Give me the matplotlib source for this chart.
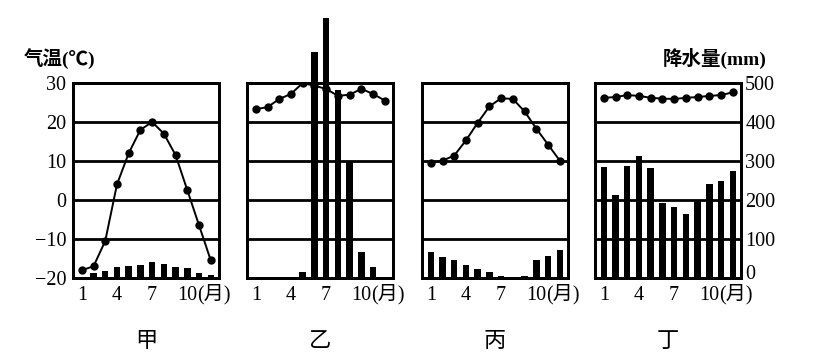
import numpy as np
import matplotlib
matplotlib.use("Agg")
import matplotlib.pyplot as plt
import matplotlib.transforms as mtransforms

plt.rcParams['font.family'] = ['Liberation Serif', 'Noto Sans CJK SC', 'DejaVu Sans']

months = np.arange(1, 13)
panel_names = ["甲", "乙", "丙", "丁"]

# monthly mean temperature (deg C)
temp_jia = [-18, -17, -10.5, 4, 12, 18, 20, 17, 11.5, 2.5, -6.5, -15.5]
temp_yi = [23.3, 23.8, 25.9, 27.2, 30, 29.3, 28.5, 26.7, 27, 28.5, 27.2, 25.5]
temp_bing = [9.5, 10.1, 11.4, 15.3, 19.8, 24, 26.1, 25.9, 22.7, 18.3, 14.2, 10.1]
temp_ding = [26.2, 26.4, 26.9, 26.7, 26.2, 26.0, 25.9, 26.2, 26.4, 26.7, 26.9, 27.6]

# monthly precipitation (mm)
prec_jia = [3, 12, 19, 27, 31, 33, 40, 36, 29, 25, 12, 8]
prec_yi = [0, 0, 0, 0, 15, 580, 666, 483, 300, 66, 29, 0]
prec_bing = [66, 54, 47, 34, 24, 15, 6, 3, 5, 47, 56, 71]
prec_ding = [285, 214, 287, 313, 283, 192, 182, 165, 197, 240, 249, 274]

temps = [temp_jia, temp_yi, temp_bing, temp_ding]
precs = [prec_jia, prec_yi, prec_bing, prec_ding]

W, H = 823, 364
fig = plt.figure(figsize=(W / 100, H / 100), dpi=100)

lefts = [73, 247, 422, 595]
pw = 146
top, bottom = 83, 278
fs = 14.5

for i in range(4):
    ax = fig.add_axes([lefts[i] / W, 1 - bottom / H, pw / W, (bottom - top) / H])
    ax.set_xlim(0.25, 12.7)
    ax.set_ylim(-20, 30)
    for y in [-10, 0, 10, 20]:
        ax.axhline(y, color='black', lw=2.0, zorder=1)
    ax.plot(months, temps[i], color='black', lw=1.4, marker='o', ms=5, zorder=3)
    for s in ax.spines.values():
        s.set_linewidth(2.0)
    ax.set_xticks([1, 4, 7, 10])
    ax.set_xticklabels(["1", "4", "7", "10"], fontsize=fs)
    ax.tick_params(axis='x', length=0, pad=6)
    if i == 0:
        ax.set_yticks([-20, -10, 0, 10, 20, 30])
        ax.set_yticklabels(["\u221220", "\u221210", "0", "10", "20", "30"], fontsize=fs)
        ax.tick_params(axis='y', length=0, pad=5)
    else:
        ax.set_yticks([])
    trans = mtransforms.blended_transform_factory(ax.transData, ax.transAxes)
    ax.text(10.85, -0.03, "(月)", transform=trans, ha='left', va='top', fontsize=fs)
    ax.text(0.5, -0.26, panel_names[i], transform=ax.transAxes, ha='center', va='top',
            fontsize=16, family=['Noto Sans CJK SC'])

    ax2 = ax.twinx()
    ax2.set_ylim(0, 500)
    ax2.bar(months, precs[i], width=0.55, color='black', clip_on=False, zorder=2)
    for s in ax2.spines.values():
        s.set_linewidth(2.0)
    if i == 3:
        ax2.set_yticks([0, 100, 200, 300, 400, 500])
        ax2.set_yticklabels(["0", "100", "200", "300", "400", "500"], fontsize=fs)
        ax2.tick_params(axis='y', length=0, pad=3)
        # lift the "0" a little so it clears the month label
        zero = ax2.get_yticklabels()[0]
        zero.set_transform(zero.get_transform() +
                           mtransforms.ScaledTranslation(0, 0.06, fig.dpi_scale_trans))
    else:
        ax2.set_yticks([])

fig.text(24 / W, 1 - 59 / H, "气温(℃)", ha='left', va='center', fontsize=14,
         fontweight='bold')
fig.text(663 / W, 1 - 58 / H, "降水量(mm)", ha='left', va='center', fontsize=14,
         fontweight='bold')

fig.savefig("out.png", dpi=100)
